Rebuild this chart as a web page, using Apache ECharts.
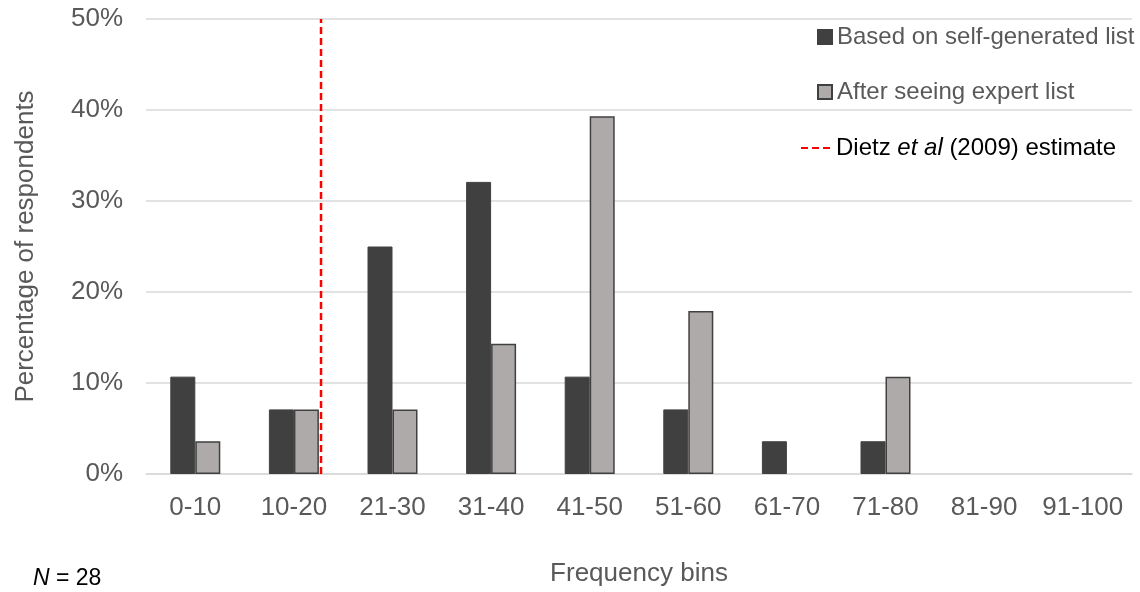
<!DOCTYPE html>
<html>
<head>
<meta charset="utf-8">
<script src="https://cdn.jsdelivr.net/npm/echarts@6/dist/echarts.min.js"></script>
<style>html,body{margin:0;padding:0;background:#fff}#c{width:1140px;height:592px}</style>
</head>
<body>
<div id="c"></div>
<script>
const categories = ['0-10','10-20','21-30','31-40','41-50','51-60','61-70','71-80','81-90','91-100'];
const selfGenerated = [10.7, 7.1, 25.0, 32.1, 10.7, 7.1, 3.6, 3.6, 0, 0];
const afterExpert = [3.6, 7.1, 7.1, 14.3, 39.3, 17.9, 0, 10.7, 0, 0];
const dietzX = 1.775; // position on the 0-10 bin-index scale
const yTicks = [0, 10, 20, 30, 40, 50];

const noZero = arr => arr.map(v => (v === 0 ? null : v));

const chart = echarts.init(document.getElementById('c'), null, {renderer: 'canvas'});
const font = 'Liberation Sans, Arial, sans-serif';
chart.setOption({
  animation: false,
  backgroundColor: '#fff',
  textStyle: {fontFamily: font},
  grid: {left: 146, right: 8, top: 19, bottom: 113},
  legend: [
    {
      data: ['Based on self-generated list', 'After seeing expert list'],
      orient: 'vertical', left: 812, top: 20,
      itemWidth: 14, itemHeight: 14, itemGap: 31,
      icon: 'rect',
      textStyle: {fontSize: 24, color: '#595959', fontFamily: font}
    },
    {
      data: [{name: 'Dietz estimate', itemStyle: {opacity: 0}}],
      orient: 'vertical', left: 795, top: 131,
      itemWidth: 30, itemHeight: 14,
      formatter: () => '{a|Dietz }{b|et al}{a| (2009) estimate}',
      textStyle: {
        fontSize: 24, color: '#000', fontFamily: font,
        rich: {a: {fontSize: 24, color: '#000', fontFamily: font}, b: {fontSize: 24, color: '#000', fontStyle: 'italic', fontFamily: font}}
      }
    }
  ],
  xAxis: [
    {
      type: 'category', data: categories,
      axisLine: {lineStyle: {color: '#D9D9D9', width: 1.5}},
      axisTick: {show: false},
      axisLabel: {fontSize: 26, color: '#595959', margin: 21, interval: 0, fontFamily: font},
      name: 'Frequency bins', nameLocation: 'middle', nameGap: 87,
      nameTextStyle: {fontSize: 26, color: '#595959', fontFamily: font}
    },
    {type: 'value', min: 0, max: 10, show: false}
  ],
  yAxis: {
    type: 'value', min: yTicks[0], max: yTicks[yTicks.length-1], interval: 10,
    axisLine: {show: false}, axisTick: {show: false},
    splitLine: {lineStyle: {color: '#D9D9D9', width: 1.5}},
    axisLabel: {fontSize: 26, color: '#595959', formatter: '{value}%', margin: 23, fontFamily: font},
    name: 'Percentage of respondents', nameLocation: 'middle', nameGap: 107,
    nameTextStyle: {fontSize: 26, color: '#595959', fontFamily: font}
  },
  series: [
    {
      name: 'Based on self-generated list', type: 'bar', data: noZero(selfGenerated),
      barWidth: 25, barGap: '0%',
      itemStyle: {color: '#404040', borderColor: '#404040', borderWidth: 1}
    },
    {
      name: 'After seeing expert list', type: 'bar', data: noZero(afterExpert),
      barWidth: 25, barGap: '0%',
      itemStyle: {color: '#AEAAAA', borderColor: '#404040', borderWidth: 1.5}
    },
    {
      name: 'Dietz estimate', type: 'line', xAxisIndex: 1,
      data: [[dietzX, 0], [dietzX, 50]],
      symbol: 'none',
      lineStyle: {color: '#FF0000', width: 2.5, type: [7, 4]},
      itemStyle: {color: '#FF0000'}
    }
  ],
  graphic: [{
    type: 'text', left: 33, top: 567,
    style: {
      text: '{i|N}{n| = 28}',
      rich: {
        i: {fontSize: 23, fontStyle: 'italic', fill: '#000', fontFamily: font},
        n: {fontSize: 23, fill: '#000', fontFamily: font}
      }
    }
  }]
});
</script>
</body>
</html>
